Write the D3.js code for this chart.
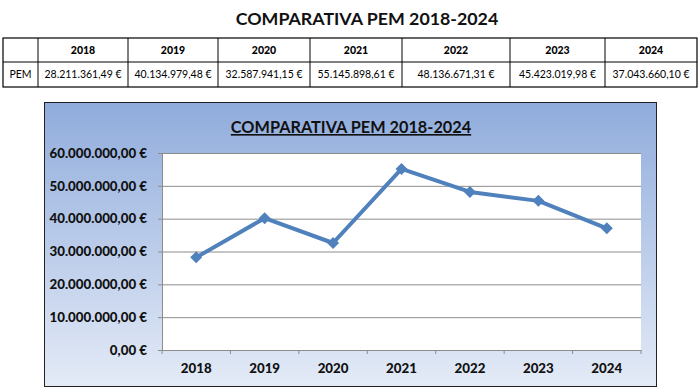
<!DOCTYPE html>
<html><head><meta charset="utf-8">
<script src="https://cdn.jsdelivr.net/npm/d3@7"></script>
<style>
html,body{margin:0;padding:0;background:#fff;}
svg{display:block;font-family:Lato,"Open Sans",sans-serif;}
</style></head>
<body><svg id="c" width="700" height="389"></svg>
<script>
const years = ["2018","2019","2020","2021","2022","2023","2024"];
const pem = [28211361.49, 40134979.48, 32587941.15, 55145898.61, 48136671.31, 45423019.98, 37043660.10];
const yTicks = [0,10000000,20000000,30000000,40000000,50000000,60000000];
const seriesName = "PEM";
const title = "COMPARATIVA PEM 2018-2024";

const fmt = v => {
  const parts = v.toFixed(2).split(".");
  const int = parts[0].replace(/\B(?=(\d{3})+(?!\d))/g, ".");
  return int + "," + parts[1] + " €";
};

const svg = d3.select("#c");

// Page title
svg.append("text").attr("x",367).attr("y",25).attr("text-anchor","middle")
  .attr("font-weight","bold").attr("font-size",17.8).attr("fill","#111").text(title);

// Table
const colX = [3,38,128,218,310,402,510,605,697];
const rowY = [38,62,87];
const tbl = svg.append("g");
tbl.append("rect").attr("x",colX[0]).attr("y",rowY[0]).attr("width",colX[8]-colX[0]).attr("height",rowY[2]-rowY[0])
  .attr("fill","none").attr("stroke","#000").attr("stroke-width",1.2);
tbl.append("line").attr("x1",colX[0]).attr("x2",colX[8]).attr("y1",rowY[1]).attr("y2",rowY[1]).attr("stroke","#000");
colX.slice(1,8).forEach(x=>tbl.append("line").attr("x1",x).attr("x2",x).attr("y1",rowY[0]).attr("y2",rowY[2]).attr("stroke","#000"));
years.forEach((y,i)=>{
  const cx=(colX[i+1]+colX[i+2])/2;
  tbl.append("text").attr("x",cx).attr("y",54).attr("text-anchor","middle").attr("font-weight","900").attr("font-size",10.5).text(y);
  tbl.append("text").attr("x",cx).attr("y",78).attr("text-anchor","middle").attr("font-size",10.5).text(fmt(pem[i]));
});
tbl.append("text").attr("x",(colX[0]+colX[1])/2).attr("y",78).attr("text-anchor","middle").attr("font-size",10.5).text(seriesName);

// Chart frame
const defs = svg.append("defs");
const g1 = defs.append("linearGradient").attr("id","bg").attr("x1",0).attr("y1",0).attr("x2",0).attr("y2",1);
g1.append("stop").attr("offset","0%").attr("stop-color","#90acdc");
g1.append("stop").attr("offset","100%").attr("stop-color","#e4ebf7");
svg.append("rect").attr("x",44.5).attr("y",102.5).attr("width",612).attr("height",284)
  .attr("fill","url(#bg)").attr("stroke","#222").attr("stroke-width",1);

// Chart title
svg.append("text").attr("x",351).attr("y",133).attr("text-anchor","middle")
  .attr("font-weight","bold").attr("font-size",16.3).attr("fill","#111").attr("text-decoration","underline").text(title);

// Plot
const m = {l:162, r:641, t:153, b:350};
svg.append("rect").attr("x",m.l).attr("y",m.t).attr("width",m.r-m.l).attr("height",m.b-m.t).attr("fill","#fff");
const x = d3.scaleBand().domain(years).range([m.l,m.r]);
const y = d3.scaleLinear().domain([0,60000000]).range([m.b,m.t]);

// gridlines
svg.append("g").selectAll("line").data(yTicks.filter(d=>d>0)).join("line")
  .attr("x1",m.l).attr("x2",m.r).attr("y1",d=>y(d)+0.5).attr("y2",d=>y(d)+0.5)
  .attr("stroke","#8c8c8c").attr("stroke-width",1);

// y axis
const ya = svg.append("g").attr("transform",`translate(${m.l},0)`)
  .call(d3.axisLeft(y).tickValues(yTicks).tickSize(4).tickPadding(11).tickFormat(fmt));
ya.select(".domain").attr("stroke","#8c8c8c");
ya.selectAll(".tick line").attr("stroke","#8c8c8c");
ya.selectAll("text").attr("font-size",13.3).attr("font-weight","900").attr("fill","#111").attr("font-family","Lato,sans-serif");

// x axis
const xa = svg.append("g").attr("transform",`translate(0,${m.b})`)
  .call(d3.axisBottom(x).tickSize(0).tickPadding(14));
xa.select(".domain").attr("stroke","#8c8c8c");
xa.selectAll("text").attr("font-size",13.3).attr("font-weight","900").attr("fill","#111").attr("font-family","Lato,sans-serif");
const bounds = years.map(d=>x(d)).concat([x(years[years.length-1])+x.bandwidth()]);
xa.append("g").selectAll("line").data(bounds).join("line")
  .attr("x1",d=>d).attr("x2",d=>d).attr("y1",0).attr("y2",4).attr("stroke","#8c8c8c");

// line
const cx = d=>x(d)+x.bandwidth()/2;
svg.append("path").datum(pem).attr("fill","none").attr("stroke","#4f81bd").attr("stroke-width",4)
  .attr("stroke-linejoin","round")
  .attr("d", d3.line().x((d,i)=>cx(years[i])).y(d=>y(d)));
svg.append("g").selectAll("path").data(pem).join("path")
  .attr("d", d3.symbol(d3.symbolSquare, 72)())
  .attr("transform",(d,i)=>`translate(${cx(years[i])},${y(d)}) rotate(45)`)
  .attr("fill","#4f81bd");
</script></body></html>
